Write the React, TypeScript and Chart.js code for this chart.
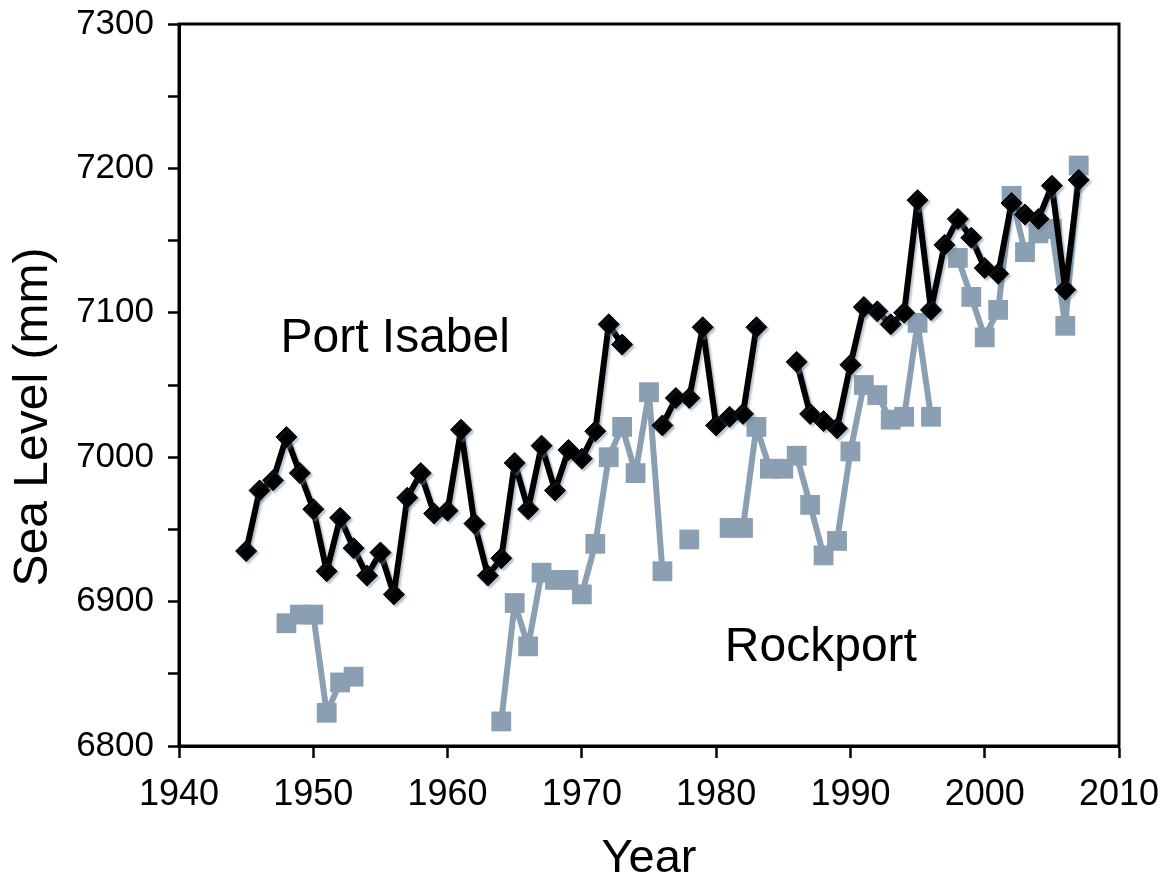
import React, { useEffect, useRef } from 'react';
import { Chart, registerables } from 'chart.js';

Chart.register(...registerables);

const years = [
  1945, 1946, 1947, 1948, 1949, 1950, 1951, 1952, 1953, 1954,
  1955, 1956, 1957, 1958, 1959, 1960, 1961, 1962, 1963, 1964,
  1965, 1966, 1967, 1968, 1969, 1970, 1971, 1972, 1973, 1974,
  1975, 1976, 1977, 1978, 1979, 1980, 1981, 1982, 1983, 1984,
  1985, 1986, 1987, 1988, 1989, 1990, 1991, 1992, 1993, 1994,
  1995, 1996, 1997, 1998, 1999, 2000, 2001, 2002, 2003, 2004,
  2005, 2006, 2007,
];

const portIsabel: (number | null)[] = [
  6935, 6977, 6984, 7014, 6989, 6964, 6921, 6958, 6937, 6918,
  6934, 6905, 6972, 6989, 6961, 6963, 7019, 6954, 6918, 6930,
  6996, 6964, 7008, 6977, 7005, 6999, 7018, 7092, 7078, null,
  null, 7022, 7041, 7041, 7090, 7022, 7028, 7030, 7090, null,
  null, 7066, 7030, 7025, 7020, 7064, 7104, 7101, 7092, 7100,
  7178, 7102, 7147, 7165, 7152, 7131, 7127, 7176, 7168, 7165,
  7188, 7116, 7192,
];

const rockport: (number | null)[] = [
  null, null, null, 6885, 6891, 6891, 6823, 6844, 6848, null,
  null, null, null, null, null, null, null, null, null, 6817,
  6899, 6869, 6920, 6915, 6915, 6905, 6940, 7000, 7021, 6989,
  7045, 6921, null, 6943, null, null, 6951, 6951, 7021, 6992,
  6992, 7001, 6967, 6932, 6942, 7004, 7050, 7043, 7026, 7028,
  7093, 7028, null, 7138, 7111, 7083, 7102, 7181, 7142, 7155,
  7158, 7091, 7202,
];

const xTicks = { min: 1940, max: 2010, step: 10 };
const yTicks = { min: 6800, max: 7300, step: 50, labelEvery: 100 };

const seriesNames = ['Port Isabel', 'Rockport'];
const labelAnchors = [
  { text: 'Port Isabel', year: 1956.1, level: 7082 },
  { text: 'Rockport', year: 1987.8, level: 6868 },
];

const FONT = '"Liberation Sans", Arial, Helvetica, sans-serif';
const GREY = '#8a9fb1';

const toPoints = (vals: (number | null)[]) =>
  years.map((yr, i) => ({ x: yr, y: vals[i] }));

const decorPlugin = {
  id: 'decor',
  beforeDatasetDraw(chart: any, args: any) {
    const ctx = chart.ctx;
    ctx.save();
    if (args.index === 0) {
      ctx.shadowColor = 'rgba(110,135,160,0.5)';
      ctx.shadowOffsetX = 2;
      ctx.shadowOffsetY = 2;
      ctx.shadowBlur = 2;
    }
  },
  afterDatasetDraw(chart: any) {
    chart.ctx.restore();
  },
  afterDraw(chart: any) {
    const { ctx, chartArea } = chart;
    const { left, top, right, bottom } = chartArea;
    const xs = chart.scales.x;
    const ys = chart.scales.y;
    ctx.save();
    ctx.strokeStyle = '#000';
    ctx.lineWidth = 3;
    ctx.strokeRect(left, top, right - left, bottom - top);

    ctx.fillStyle = '#000';
    ctx.textAlign = 'center';
    ctx.textBaseline = 'middle';
    ctx.font = `48px ${FONT}`;
    labelAnchors.forEach((a) => {
      ctx.fillText(a.text, xs.getPixelForValue(a.year), ys.getPixelForValue(a.level));
    });

    ctx.font = `48px ${FONT}`;
    ctx.translate(34, (top + bottom) / 2 + 32);
    ctx.rotate(-Math.PI / 2);
    ctx.fillText('Sea Level (mm)', 0, 0);
    ctx.restore();
  },
};

export default function App() {
  const ref = useRef<HTMLCanvasElement | null>(null);

  useEffect(() => {
    if (!ref.current) return;
    const chart = new Chart(ref.current, {
      type: 'line',
      data: {
        datasets: [
          {
            label: seriesNames[0],
            data: toPoints(portIsabel),
            borderColor: '#000',
            backgroundColor: '#000',
            borderWidth: 6,
            borderJoinStyle: 'round',
            pointStyle: 'rectRot',
            pointRadius: 10.5,
            pointBackgroundColor: '#000',
            pointBorderColor: '#000',
            pointBorderWidth: 1,
            tension: 0,
            spanGaps: false,
          },
          {
            label: seriesNames[1],
            data: toPoints(rockport),
            borderColor: GREY,
            backgroundColor: GREY,
            borderWidth: 6,
            borderJoinStyle: 'round',
            pointStyle: 'rect',
            pointRadius: 14,
            pointBackgroundColor: GREY,
            pointBorderColor: GREY,
            pointBorderWidth: 0,
            tension: 0,
            spanGaps: false,
          },
        ],
      },
      options: {
        animation: false,
        responsive: false,
        maintainAspectRatio: false,
        layout: { padding: { left: 0, top: 24, right: 48, bottom: 0 } },
        plugins: {
          legend: { display: false },
          tooltip: { enabled: false },
          title: { display: false },
        },
        scales: {
          x: {
            type: 'linear',
            min: xTicks.min,
            max: xTicks.max,
            afterFit: (s: any) => {
              s.height = 138;
              s.paddingLeft = 0;
              s.paddingRight = 0;
            },
            ticks: {
              stepSize: xTicks.step,
              autoSkip: false,
              maxRotation: 0,
              color: '#000',
              font: { family: FONT, size: 36 },
              padding: 15,
              callback: (v: any) => String(v),
            },
            grid: {
              drawOnChartArea: false,
              drawTicks: true,
              tickLength: 12,
              tickColor: '#000',
              tickWidth: 2.5,
              color: '#000',
            },
            border: { display: true, color: '#000', width: 3 },
            title: {
              display: true,
              text: 'Year',
              color: '#000',
              font: { family: FONT, size: 47, lineHeight: 1 },
              padding: { top: 0, bottom: 1 },
            },
          },
          y: {
            type: 'linear',
            min: yTicks.min,
            max: yTicks.max,
            afterFit: (s: any) => {
              s.width = 179;
              s.paddingTop = 0;
              s.paddingBottom = 0;
            },
            ticks: {
              stepSize: yTicks.step,
              autoSkip: false,
              color: '#000',
              font: { family: FONT, size: 35 },
              padding: 14,
              callback: (v: any) => (Number(v) % yTicks.labelEvery === 0 ? String(v) : ''),
            },
            grid: {
              drawOnChartArea: false,
              drawTicks: true,
              tickLength: 11,
              tickColor: '#000',
              tickWidth: 2.5,
              color: '#000',
            },
            border: { display: true, color: '#000', width: 3 },
          },
        },
      },
      plugins: [decorPlugin],
    } as any);
    return () => chart.destroy();
  }, []);

  return (
    <div style={{ position: 'absolute', left: 0, top: 0, width: 1167, height: 884, background: '#fff' }}>
      <canvas ref={ref} width={1167} height={884} style={{ width: 1167, height: 884, display: 'block' }} />
    </div>
  );
}
